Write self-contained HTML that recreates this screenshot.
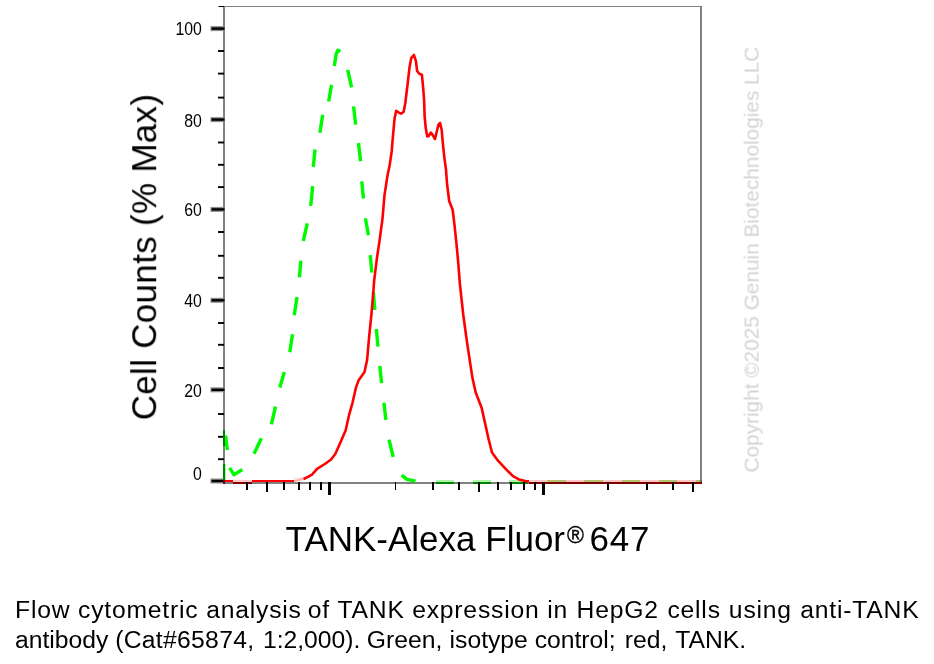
<!DOCTYPE html>
<html><head><meta charset="utf-8"><title>TANK flow cytometry</title>
<style>
html,body{margin:0;padding:0;background:#fff;}
body{width:934px;height:664px;overflow:hidden;font-family:"Liberation Sans",sans-serif;}
svg{display:block;will-change:transform;}
svg text{font-family:"Liberation Sans",sans-serif;}
</style></head><body>
<svg width="934" height="664" viewBox="0 0 934 664">
<rect width="934" height="664" fill="#fff"/>
<g shape-rendering="crispEdges">
<rect x="223" y="6" width="2" height="478" fill="#808080"/>
<rect x="223" y="6" width="479" height="1" fill="#808080"/>
<rect x="700" y="6" width="2" height="478" fill="#808080"/>
<rect x="223" y="482" width="479" height="2" fill="#808080"/>
</g>
<line x1="210.5" y1="28.6" x2="224.5" y2="28.6" stroke="#8c8c8c" stroke-width="5"/>
<line x1="211.5" y1="28.6" x2="224.5" y2="28.6" stroke="#000" stroke-width="2.4"/>
<line x1="210.5" y1="119.6" x2="224.5" y2="119.6" stroke="#8c8c8c" stroke-width="5"/>
<line x1="211.5" y1="119.6" x2="224.5" y2="119.6" stroke="#000" stroke-width="2.4"/>
<line x1="210.5" y1="209.4" x2="224.5" y2="209.4" stroke="#8c8c8c" stroke-width="5"/>
<line x1="211.5" y1="209.4" x2="224.5" y2="209.4" stroke="#000" stroke-width="2.4"/>
<line x1="210.5" y1="300.3" x2="224.5" y2="300.3" stroke="#8c8c8c" stroke-width="5"/>
<line x1="211.5" y1="300.3" x2="224.5" y2="300.3" stroke="#000" stroke-width="2.4"/>
<line x1="210.5" y1="389.8" x2="224.5" y2="389.8" stroke="#8c8c8c" stroke-width="5"/>
<line x1="211.5" y1="389.8" x2="224.5" y2="389.8" stroke="#000" stroke-width="2.4"/>
<line x1="210.5" y1="481.0" x2="224.5" y2="481.0" stroke="#8c8c8c" stroke-width="5"/>
<line x1="211.5" y1="481.0" x2="224.5" y2="481.0" stroke="#000" stroke-width="2.4"/>
<line x1="218" y1="51.0" x2="224" y2="51.0" stroke="#000" stroke-width="1.9"/>
<line x1="218" y1="73.6" x2="224" y2="73.6" stroke="#000" stroke-width="1.9"/>
<line x1="218" y1="97.6" x2="224" y2="97.6" stroke="#000" stroke-width="1.9"/>
<line x1="218" y1="142.5" x2="224" y2="142.5" stroke="#000" stroke-width="1.9"/>
<line x1="218" y1="164.8" x2="224" y2="164.8" stroke="#000" stroke-width="1.9"/>
<line x1="218" y1="187.1" x2="224" y2="187.1" stroke="#000" stroke-width="1.9"/>
<line x1="218" y1="232.0" x2="224" y2="232.0" stroke="#000" stroke-width="1.9"/>
<line x1="218" y1="255.8" x2="224" y2="255.8" stroke="#000" stroke-width="1.9"/>
<line x1="218" y1="277.8" x2="224" y2="277.8" stroke="#000" stroke-width="1.9"/>
<line x1="218" y1="323.0" x2="224" y2="323.0" stroke="#000" stroke-width="1.9"/>
<line x1="218" y1="344.8" x2="224" y2="344.8" stroke="#000" stroke-width="1.9"/>
<line x1="218" y1="368.0" x2="224" y2="368.0" stroke="#000" stroke-width="1.9"/>
<line x1="218" y1="414.0" x2="224" y2="414.0" stroke="#000" stroke-width="1.9"/>
<line x1="218" y1="436.8" x2="224" y2="436.8" stroke="#000" stroke-width="1.9"/>
<line x1="218" y1="459.2" x2="224" y2="459.2" stroke="#000" stroke-width="1.9"/>
<line x1="218.5" y1="6.5" x2="224" y2="6.5" stroke="#000" stroke-width="1"/>
<g style="will-change:transform">
<text x="201.8" y="35.1" font-size="17.6" text-anchor="end" transform="translate(20.18,0) scale(0.9,1)">100</text>
<text x="201.8" y="126.7" font-size="17.6" text-anchor="end" transform="translate(20.18,0) scale(0.9,1)">80</text>
<text x="201.8" y="215.8" font-size="17.6" text-anchor="end" transform="translate(20.18,0) scale(0.9,1)">60</text>
<text x="201.8" y="306.8" font-size="17.6" text-anchor="end" transform="translate(20.18,0) scale(0.9,1)">40</text>
<text x="201.8" y="396.7" font-size="17.6" text-anchor="end" transform="translate(20.18,0) scale(0.9,1)">20</text>
<text x="201.8" y="480.2" font-size="17.6" text-anchor="end" transform="translate(20.18,0) scale(0.9,1)">0</text>
</g>
<polyline points="225.5,435.5 227.4,450.0" fill="none" stroke="#00fa00" stroke-width="3.4" stroke-linejoin="round"/>
<polyline points="229.6,467.8 234,474.8 242.3,469.5" fill="none" stroke="#00fa00" stroke-width="3.4" stroke-linejoin="round"/>
<polyline points="254,453.8 261.4,438.3" fill="none" stroke="#00fa00" stroke-width="3.4" stroke-linejoin="round"/>
<polyline points="271.4,424.4 275.5,406.5" fill="none" stroke="#00fa00" stroke-width="3.4" stroke-linejoin="round"/>
<polyline points="279.8,387.5 284.3,372.1" fill="none" stroke="#00fa00" stroke-width="3.4" stroke-linejoin="round"/>
<polyline points="289.8,352.2 292.5,334.2" fill="none" stroke="#00fa00" stroke-width="3.4" stroke-linejoin="round"/>
<polyline points="294.3,315.2 297,297.1" fill="none" stroke="#00fa00" stroke-width="3.4" stroke-linejoin="round"/>
<polyline points="299.4,277.3 300.9,260.6" fill="none" stroke="#00fa00" stroke-width="3.4" stroke-linejoin="round"/>
<polyline points="303.3,241 307.2,223.4" fill="none" stroke="#00fa00" stroke-width="3.4" stroke-linejoin="round"/>
<polyline points="310.7,205.8 312.7,186.2" fill="none" stroke="#00fa00" stroke-width="3.4" stroke-linejoin="round"/>
<polyline points="313.3,167.0 315,149.5" fill="none" stroke="#00fa00" stroke-width="3.4" stroke-linejoin="round"/>
<polyline points="319.9,132.8 322.7,114.8" fill="none" stroke="#00fa00" stroke-width="3.4" stroke-linejoin="round"/>
<polyline points="328.7,101.5 331.5,84.9" fill="none" stroke="#00fa00" stroke-width="3.4" stroke-linejoin="round"/>
<polyline points="334.3,66 336.1,54.5 337.8,50.2 340.4,51.6" fill="none" stroke="#00fa00" stroke-width="3.4" stroke-linejoin="round"/>
<polyline points="347.7,69.8 351.6,87.4" fill="none" stroke="#00fa00" stroke-width="3.4" stroke-linejoin="round"/>
<polyline points="353.6,106.4 355.6,124.6" fill="none" stroke="#00fa00" stroke-width="3.4" stroke-linejoin="round"/>
<polyline points="358.5,143 360.6,161.3" fill="none" stroke="#00fa00" stroke-width="3.4" stroke-linejoin="round"/>
<polyline points="361.8,181.3 363.4,198.5" fill="none" stroke="#00fa00" stroke-width="3.4" stroke-linejoin="round"/>
<polyline points="365.4,218.3 368.4,235.2" fill="none" stroke="#00fa00" stroke-width="3.4" stroke-linejoin="round"/>
<polyline points="370.3,255.2 371.8,272.7" fill="none" stroke="#00fa00" stroke-width="3.4" stroke-linejoin="round"/>
<polyline points="373.4,291.8 374.8,309.8" fill="none" stroke="#00fa00" stroke-width="3.4" stroke-linejoin="round"/>
<polyline points="376.3,329 378,346.6" fill="none" stroke="#00fa00" stroke-width="3.4" stroke-linejoin="round"/>
<polyline points="379.8,366 381.6,383.1" fill="none" stroke="#00fa00" stroke-width="3.4" stroke-linejoin="round"/>
<polyline points="383.9,402.8 385.9,420" fill="none" stroke="#00fa00" stroke-width="3.4" stroke-linejoin="round"/>
<polyline points="389,439.7 393.2,457" fill="none" stroke="#00fa00" stroke-width="3.4" stroke-linejoin="round"/>
<polyline points="401.6,475.1 407,479.4 415.6,481.1" fill="none" stroke="#00fa00" stroke-width="3.4" stroke-linejoin="round"/>
<g shape-rendering="crispEdges">
<rect x="223" y="464" width="2" height="18" fill="#008000"/>
<rect x="225" y="464" width="1" height="17" fill="#a0ffa0"/>
<rect x="223" y="430" width="2" height="16" fill="#008000"/>
<rect x="435.8" y="480" width="17.8" height="2" fill="#a8f8a8"/>
<rect x="435.8" y="482" width="17.8" height="2" fill="#008000"/>
<rect x="472.8" y="480" width="17.9" height="2" fill="#a8f8a8"/>
<rect x="472.8" y="482" width="17.9" height="2" fill="#008000"/>
<rect x="508.6" y="480" width="19.4" height="2" fill="#a8f8a8"/>
<rect x="508.6" y="482" width="19.4" height="2" fill="#008000"/>
</g>
<polyline points="303.6,479.0 308,476.9 312,474.6 317.1,468.9 324.8,464 330.8,459.7 335.3,454 340.5,442.2 345.7,430.2 349.1,414.8 352.5,402.8 356,387.4 358.5,380.6 364.5,372 367.1,360 369.1,337.2 371.7,311.5 374.2,280.3 376.7,259.8 379.6,240.2 382.5,218.6 384.5,195.1 387.5,175.5 389.6,165.5 391.7,151.4 393,135.3 394.6,118.2 396.2,110.7 398.4,112.3 401,113.7 403.7,111.8 405.3,103 407.5,85 409.6,66.8 411.2,58.2 413.9,55 416,61.4 417.1,71 419.3,73.7 421.9,74.8 423,86 424.1,100 424.6,116 425.7,127.8 427.3,136.4 428.9,135.9 430.8,132.7 432.6,134.8 435,139 436.9,131 438.5,124.6 440.1,123 441.7,130 442.8,142.8 444.4,157.8 446,169.6 447.1,184.5 449.2,201 452.7,210 454.5,225 456.4,243 458.2,262.4 459.9,284.1 463.3,315 466.8,340.7 469.7,360 472.3,377.1 475.7,392.5 481.7,408 485.1,423.4 488.5,438.8 492,452.5 498,460.7 506.1,469.3 513,476.2 518.9,479.4 525.3,481 529.1,481.2" fill="none" stroke="#ff0000" stroke-width="2.6" stroke-linejoin="round" opacity="1"/>
<polyline points="293.5,481 304,479" fill="none" stroke="#ff0000" stroke-width="2.2" stroke-linejoin="round" opacity="0.32"/>
<polyline points="293.5,478.2 304,478" fill="none" stroke="#ff0000" stroke-width="1.2" stroke-linejoin="round" opacity="0.15"/>
<g shape-rendering="crispEdges">
<rect x="225" y="480" width="8" height="2" fill="#ff0000"/>
<rect x="233" y="480" width="18.5" height="2" fill="#ffc8c8"/>
<rect x="233" y="482" width="19" height="2" fill="#800000"/>
<rect x="251.5" y="480" width="42.5" height="2" fill="#ff0000"/>
<rect x="223" y="480" width="2" height="4" fill="#700000"/>
<rect x="529" y="480" width="171" height="2" fill="#ffc4c4"/>
<rect x="529" y="482" width="173" height="2" fill="#800000"/>
<rect x="546.9" y="480" width="18.8" height="2" fill="#b4c070"/>
<rect x="584.0" y="480" width="18.9" height="2" fill="#b4c070"/>
<rect x="621.8" y="480" width="18.0" height="2" fill="#b4c070"/>
<rect x="658.9" y="480" width="17.9" height="2" fill="#b4c070"/>
<rect x="696.0" y="480" width="4.0" height="2" fill="#b4c070"/>
<rect x="700" y="480" width="2" height="2" fill="#6c6c40"/>
</g>
<g shape-rendering="crispEdges" fill="#000">
<rect x="246" y="482" width="2" height="8"/>
<rect x="283" y="482" width="2" height="8"/>
<rect x="298" y="482" width="2" height="8"/>
<rect x="309" y="482" width="2" height="8"/>
<rect x="320" y="482" width="2" height="8"/>
<rect x="432" y="482" width="2" height="8"/>
<rect x="458" y="482" width="2" height="8"/>
<rect x="497" y="482" width="2" height="8"/>
<rect x="510" y="482" width="2" height="8"/>
<rect x="523" y="482" width="2" height="8"/>
<rect x="534" y="482" width="2" height="8"/>
<rect x="607" y="482" width="2" height="8"/>
<rect x="646" y="482" width="2" height="8"/>
<rect x="672" y="482" width="2" height="8"/>
<rect x="266" y="482" width="2" height="10"/>
<rect x="478" y="482" width="2" height="10"/>
<rect x="692" y="482" width="2" height="10"/>
<rect x="328" y="482" width="3" height="13"/>
<rect x="542" y="482" width="3" height="13"/>
<rect x="395" y="482" width="1" height="8"/>
</g>
<g style="will-change:transform">
<text x="0" y="0" font-size="35" transform="translate(156.2,420.3) rotate(-90)" letter-spacing="0.3">Cell Counts (% Max)</text>
<text x="285.6" y="551.2" font-size="35">TANK-Alexa Fluor</text>
<text x="567.1" y="542.8" font-size="23" stroke="#000" stroke-width="0.35">®</text>
<text x="589.4" y="551.2" font-size="35" letter-spacing="0.9">647</text>
<text x="0" y="0" font-size="20.8" fill="#d3d3d3" transform="translate(758.6,472.5) rotate(-90)">Copyright ©2025 Genuin Biotechnologies LLC</text>
<text y="618" font-size="24.7" letter-spacing="0.8"><tspan x="15.00">Flow</tspan><tspan x="78.00">cytometric</tspan><tspan x="206.16">analysis</tspan><tspan x="307.82">of</tspan><tspan x="337.44">TANK</tspan><tspan x="412.13">expression</tspan><tspan x="547.20">in</tspan><tspan x="576.50">HepG2</tspan><tspan x="667.40">cells</tspan><tspan x="728.87">using</tspan><tspan x="800.27">anti-TANK</tspan></text>
<text y="648.3" font-size="24.7"><tspan x="15.00" letter-spacing="0">antibody</tspan><tspan x="115.20" letter-spacing="0.3">(Cat#65874,</tspan><tspan x="262.95" letter-spacing="0">1:2,000).</tspan><tspan x="366.77" letter-spacing="0">Green,</tspan><tspan x="449.60" letter-spacing="0">isotype</tspan><tspan x="534.70" letter-spacing="0">control;</tspan><tspan x="624.83" letter-spacing="0">red,</tspan><tspan x="675.30" letter-spacing="0">TANK.</tspan></text>
</g>
</svg>
</body></html>
